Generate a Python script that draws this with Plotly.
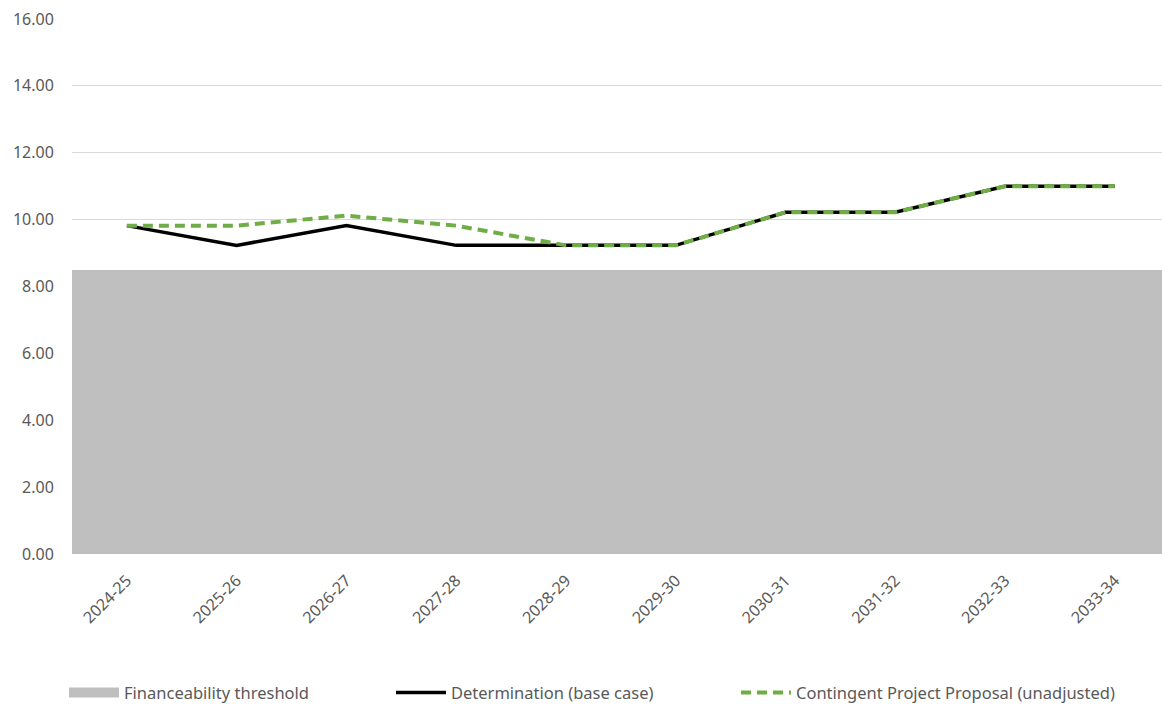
import plotly.graph_objects as go

years = ["2024-25", "2025-26", "2026-27", "2027-28", "2028-29",
         "2029-30", "2030-31", "2031-32", "2032-33", "2033-34"]
threshold = [8.5] * 10
determination = [9.82, 9.23, 9.82, 9.23, 9.23, 9.23, 10.22, 10.22, 11.0, 11.0]
contingent = [9.82, 9.82, 10.12, 9.82, 9.23, 9.23, 10.22, 10.22, 11.0, 11.0]
y_ticks = [0, 2, 4, 6, 8, 10, 12, 14, 16]

font_fam = "Noto Sans, Open Sans, sans-serif"
txt = "#595959"

fig = go.Figure()
fig.add_trace(go.Bar(x=years, y=threshold, width=1.0, marker=dict(color="#BFBFBF", line=dict(width=0)),
                     showlegend=False, hoverinfo="skip"))
fig.add_trace(go.Scatter(x=[None], y=[None], mode="lines", name="Financeability threshold",
                         line=dict(color="#BFBFBF", width=10), legend="legend"))
fig.add_trace(go.Scatter(x=years, y=determination, mode="lines", name="Determination (base case)",
                         line=dict(color="#000000", width=3.5), legend="legend2"))
fig.add_trace(go.Scatter(x=years, y=contingent, mode="lines", name="Contingent Project Proposal (unadjusted)",
                         line=dict(color="#70AD47", width=4, dash="10px,6px"), legend="legend3"))

leg_common = dict(orientation="h", yref="container", y=0.02, yanchor="middle",
                  xref="container", xanchor="left", itemwidth=50,
                  font=dict(size=16.5, color=txt), bgcolor="rgba(0,0,0,0)")

fig.update_layout(
    width=1162, height=707,
    margin=dict(l=72, r=0, t=18, b=153),
    plot_bgcolor="white", paper_bgcolor="white",
    font=dict(family=font_fam, size=15, color=txt),
    bargap=0,
    xaxis=dict(type="category", range=[-0.5, 9.43], tickangle=-45, showgrid=False,
               showline=False, ticks="outside", ticklen=10, tickcolor="rgba(0,0,0,0)",
               tickfont=dict(size=16, color=txt)),
    yaxis=dict(range=[0, 16.03], tickvals=y_ticks, tickformat=".2f", showgrid=True,
               gridcolor="#D9D9D9", gridwidth=1, zeroline=False, showline=False,
               ticks="outside", ticklen=14, tickcolor="rgba(0,0,0,0)",
               tickfont=dict(size=16, color=txt)),
    legend=dict(leg_common, x=64 / 1162),
    legend2=dict(leg_common, x=391 / 1162),
    legend3=dict(leg_common, x=736 / 1162),
    showlegend=True,
)

fig.write_html("out.html")
